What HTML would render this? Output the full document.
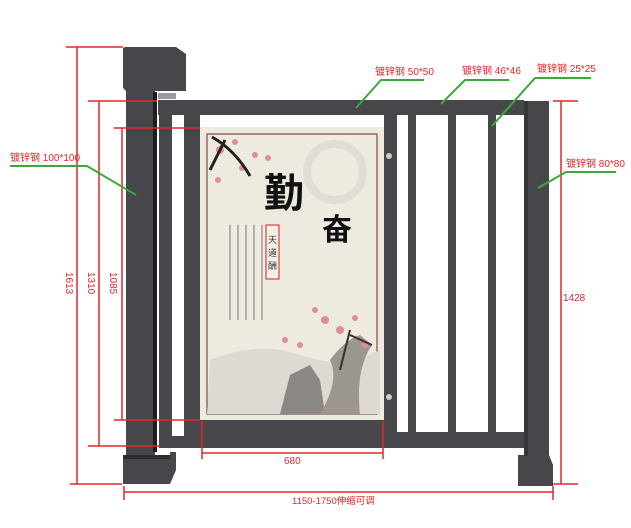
<!DOCTYPE html>
<html><head><meta charset="utf-8"><style>
html,body{margin:0;padding:0;background:#fff;width:631px;height:528px;overflow:hidden}
svg{display:block}
text{font-family:"Liberation Sans","Noto Sans CJK SC",sans-serif}
</style></head><body>
<svg width="631" height="528" viewBox="0 0 631 528" xmlns="http://www.w3.org/2000/svg">
<g fill="#47464b">
  <rect x="158" y="100" width="366" height="15"/>
  <rect x="159" y="100" width="13" height="348"/>
  <rect x="184" y="114" width="16" height="320"/>
  <rect x="384" y="114" width="13" height="320"/>
  <rect x="408" y="114" width="8" height="322"/>
  <rect x="448" y="114" width="8" height="322"/>
  <rect x="488" y="114" width="8" height="322"/>
  <rect x="184" y="420" width="213" height="16"/>
  <rect x="397" y="432" width="127" height="5"/>
  <rect x="172" y="436" width="352" height="12"/>
  <rect x="126" y="90" width="29" height="366"/>
  <path d="M123 49 Q123 47 126 47 L176 47 L186 54 L186 91 L126 91 L123 88Z"/>
  <rect x="123" y="458" width="47" height="26"/>
  <path d="M170 452 L176 452 L176 470 L170 484Z"/>
  <rect x="524" y="101" width="25" height="356"/>
  <path d="M518 455 L549 455 L553 465 L553 486 L518 486Z"/>
</g>
<rect x="153" y="92" width="4" height="360" fill="#1e1e20"/>
<rect x="123" y="455" width="47" height="4" fill="#2d2d30"/>
<rect x="524" y="101" width="4" height="355" fill="#36353a"/>
<rect x="158" y="93" width="18" height="6" fill="#9a9a9e"/>
<rect x="200" y="127" width="184" height="293" fill="#eeeae0"/>
<rect x="207" y="134" width="170" height="280" fill="none" stroke="#6b2a22" stroke-width="1"/>
<circle cx="335" cy="172" r="28" fill="none" stroke="#e0ddd5" stroke-width="8"/>
<path d="M210 360 Q260 340 300 355 T380 350 L380 414 L207 414Z" fill="#dcdad3"/>
<path d="M280 414 L290 375 L310 365 L320 380 L325 414Z" fill="#8a8784"/>
<path d="M320 414 Q340 380 330 360 Q345 340 360 335 L372 345 Q355 370 360 414Z" fill="#9c978e"/>
<g fill="#e08c9c">
  <circle cx="220" cy="150" r="4"/><circle cx="235" cy="142" r="3"/><circle cx="255" cy="155" r="3"/><circle cx="268" cy="158" r="3"/><circle cx="218" cy="180" r="3"/><circle cx="242" cy="168" r="3"/>
  <circle cx="325" cy="320" r="4"/><circle cx="340" cy="330" r="4"/><circle cx="355" cy="318" r="3"/><circle cx="285" cy="340" r="3"/><circle cx="300" cy="345" r="3"/><circle cx="365" cy="345" r="3"/><circle cx="315" cy="310" r="3"/>
</g>
<path d="M212 137 Q235 150 250 176 M225 140 L210 170" stroke="#222" stroke-width="3" fill="none"/>
<path d="M350 330 L340 370 M350 335 L372 345" stroke="#3a2e2a" stroke-width="2" fill="none"/>
<text x="264" y="207" font-size="40" font-weight="bold" fill="#111">勤</text>
<text x="322" y="240" font-size="30" font-weight="bold" fill="#111">奋</text>
<rect x="266" y="225" width="13" height="54" fill="#f3efe6" stroke="#c22" stroke-width="1"/>
<text x="268" y="243" font-size="9" fill="#333">天</text>
<text x="268" y="256" font-size="9" fill="#333">道</text>
<text x="268" y="269" font-size="9" fill="#333">酬</text>
<g stroke="#777" stroke-width="1">
  <line x1="230" y1="225" x2="230" y2="320"/><line x1="238" y1="225" x2="238" y2="320"/><line x1="246" y1="225" x2="246" y2="320"/><line x1="254" y1="225" x2="254" y2="320"/><line x1="262" y1="225" x2="262" y2="320"/>
</g>
<circle cx="389" cy="156" r="3" fill="#ccc"/><circle cx="389" cy="397" r="3" fill="#ccc"/>
<g stroke="#e3262a" stroke-width="1.5" fill="none">
  <line x1="66" y1="47" x2="123" y2="47"/><line x1="77" y1="47" x2="77" y2="484"/><line x1="70" y1="484" x2="122" y2="484"/>
  <line x1="88" y1="101" x2="157" y2="101"/><line x1="99" y1="101" x2="99" y2="446"/><line x1="88" y1="446" x2="160" y2="446"/>
  <line x1="114" y1="128" x2="200" y2="128"/><line x1="122" y1="128" x2="122" y2="420"/><line x1="114" y1="420" x2="200" y2="420"/>
  <line x1="553" y1="101" x2="578" y2="101"/><line x1="561" y1="101" x2="561" y2="484"/><line x1="553" y1="484" x2="578" y2="484"/>
  <line x1="202" y1="453" x2="383" y2="453"/><line x1="202" y1="421" x2="202" y2="459"/><line x1="383" y1="421" x2="383" y2="459"/>
  <line x1="124" y1="492" x2="553" y2="492"/><line x1="124" y1="486" x2="124" y2="500"/><line x1="553" y1="486" x2="553" y2="500"/>
</g>
<g fill="#e3262a" font-size="10">
  <text transform="translate(66,272) rotate(90)">1613</text>
  <text transform="translate(88,272) rotate(90)">1310</text>
  <text transform="translate(110,272) rotate(90)">1085</text>
  <text x="563" y="301">1428</text>
  <text x="284" y="464">680</text>
  <text x="292" y="504" font-size="9.5">1150-1750伸缩可调</text>
  <text x="10" y="161">镀锌钢 100*100</text>
  <text x="375" y="75">镀锌钢 50*50</text>
  <text x="462" y="74">镀锌钢 46*46</text>
  <text x="537" y="72">镀锌钢 25*25</text>
  <text x="566" y="167">镀锌钢 80*80</text>
</g>
<g stroke="#3aaa3a" stroke-width="2" fill="none">
  <polyline points="10,166 87,166 136,195"/>
  <polyline points="424,80 381,80 356,108"/>
  <polyline points="509,80 465,80 441,104"/>
  <polyline points="591,78 535,78 492,126"/>
  <polyline points="616,172 566,172 538,188"/>
</g>
</svg>
</body></html>
